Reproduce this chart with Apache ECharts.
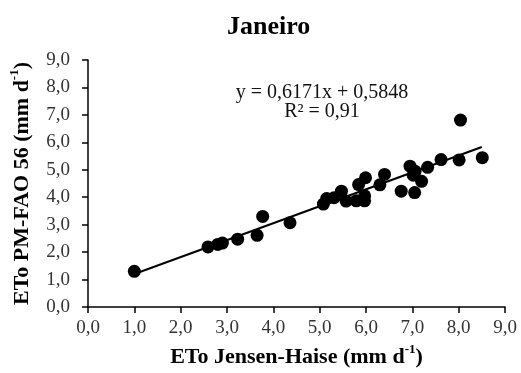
<!DOCTYPE html>
<html>
<head>
<meta charset="utf-8">
<script src="https://cdn.jsdelivr.net/npm/echarts@6/dist/echarts.min.js"></script>
<style>
  html, body { margin: 0; padding: 0; background: #fff; }
  #chart { width: 521px; height: 373px; }
</style>
</head>
<body>
<div id="chart"></div>
<script>
// Daily ETo, January: Jensen-Haise estimate (x) vs PM-FAO 56 reference (y)
const jensenHaise = [1.00, 2.59, 2.80, 2.90, 3.23, 3.65, 3.77, 4.36, 5.08, 5.15, 5.31, 5.47, 5.57,
  5.79, 5.84, 5.97, 5.97, 5.99, 6.30, 6.40, 6.76, 6.95, 7.02, 7.05, 7.06, 7.20, 7.33, 7.62,
  8.01, 8.04, 8.51];
const pmFao = [1.30, 2.19, 2.28, 2.33, 2.47, 2.61, 3.30, 3.07, 3.75, 3.95, 3.98, 4.22, 3.86,
  3.87, 4.46, 3.87, 4.05, 4.71, 4.45, 4.83, 4.22, 5.13, 4.80, 4.17, 4.95, 4.58, 5.09, 5.37,
  5.36, 6.81, 5.44];

// Linear fit reported for the series
const slope = 0.6171;
const intercept = 0.5848;
const fitRange = [1.0, 8.5];
const equationText = 'y = 0,6171x + 0,5848';
const r2Text = 'R² = 0,91';

const tickLabels = ['0,0', '1,0', '2,0', '3,0', '4,0', '5,0', '6,0', '7,0', '8,0', '9,0'];

const points = jensenHaise.map((x, i) => [x, pmFao[i]]);
const fitLine = fitRange.map(x => [x, slope * x + intercept]);

const serif = '"Liberation Serif", "DejaVu Serif", serif';
const fmt = v => tickLabels[Math.round(v)] ?? v;

const nameRich = {
  n: { fontFamily: serif, fontWeight: 'bold', fontSize: 22, color: '#000', verticalAlign: 'bottom', lineHeight: 25 },
  s: { fontFamily: serif, fontWeight: 'bold', fontSize: 13, color: '#000', verticalAlign: 'top', lineHeight: 25, padding: [0, 0, 10, 0] }
};

const chart = echarts.init(document.getElementById('chart'), null, { renderer: 'canvas' });
chart.setOption({
  animation: false,
  backgroundColor: '#fff',
  title: {
    text: 'Janeiro',
    left: 222,
    top: 9,
    textStyle: { fontFamily: serif, fontWeight: 'bold', fontSize: 26, color: '#000' }
  },
  grid: { left: 86, right: 16, top: 60, bottom: 65 },
  xAxis: {
    type: 'value', min: 0, max: 9, interval: 1,
    axisLine: { show: true, lineStyle: { color: '#000', width: 1.5 } },
    axisTick: { show: true, length: 6, lineStyle: { color: '#000', width: 1.5 } },
    splitLine: { show: false },
    axisLabel: { formatter: fmt, fontFamily: serif, fontSize: 19, color: '#333', margin: 12 },
    name: '{n|ETo Jensen-Haise (mm d}{s|-1}{n|)}',
    nameLocation: 'middle',
    nameGap: 36,
    nameTextStyle: { rich: nameRich }
  },
  yAxis: {
    type: 'value', min: 0, max: 9, interval: 1,
    axisLine: { show: true, lineStyle: { color: '#000', width: 1.5 } },
    axisTick: { show: true, length: 6, lineStyle: { color: '#000', width: 1.5 } },
    splitLine: { show: false },
    axisLabel: { formatter: fmt, fontFamily: serif, fontSize: 19, color: '#333', margin: 18 },
    name: '{n|ETo PM-FAO 56 (mm d}{s|-1}{n|)}',
    nameLocation: 'middle',
    nameGap: 55,
    nameTextStyle: { rich: nameRich }
  },
  graphic: [
    {
      type: 'text', x: 322, y: 93,
      style: { text: equationText, font: '20px ' + serif, fill: '#111', align: 'center', verticalAlign: 'middle' }
    },
    {
      type: 'text', x: 322, y: 112,
      style: { text: r2Text, font: '20px ' + serif, fill: '#111', align: 'center', verticalAlign: 'middle' }
    }
  ],
  series: [
    {
      type: 'line',
      data: fitLine,
      symbol: 'none',
      lineStyle: { color: '#000', width: 2 },
      z: 3
    },
    {
      type: 'scatter',
      data: points,
      symbol: 'circle',
      symbolSize: 13,
      itemStyle: { color: '#000', opacity: 1 },
      z: 2
    }
  ]
});
</script>
</body>
</html>
